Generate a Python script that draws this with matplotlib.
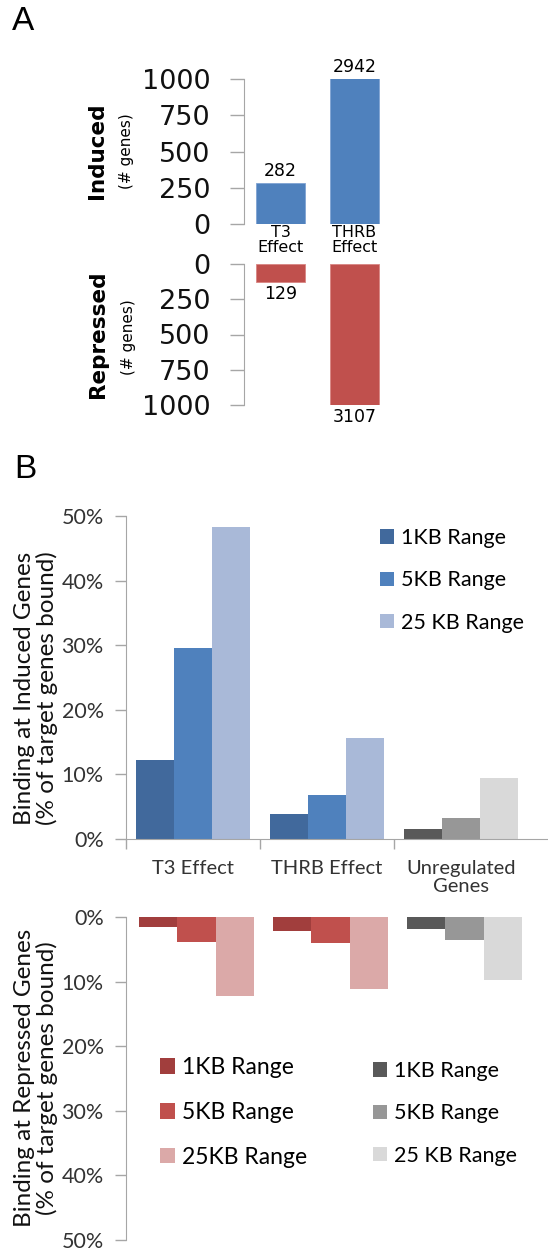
import matplotlib
matplotlib.use("Agg")
import matplotlib.pyplot as plt
import numpy as np

# ---- data ----
a_groups = ["T3\nEffect", "THRB\nEffect"]
a_induced = [282, 2942]
a_repressed = [129, 3107]

b_groups = ["T3 Effect", "THRB Effect", "Unregulated\nGenes"]
b_ranges = ["1KB Range", "5KB Range", "25 KB Range"]
b_ranges_red = ["1KB Range", "5KB Range", "25KB Range"]
b_ranges_gray = ["1KB Range", "5KB Range", "25 KB Range"]
# % of target genes bound, one list per range (T3, THRB, Unregulated)
ind_1kb = [12.2, 3.9, 1.5]
ind_5kb = [29.6, 6.8, 3.3]
ind_25kb = [48.3, 15.6, 9.5]
rep_1kb = [1.5, 2.1, 1.8]
rep_5kb = [3.8, 4.0, 3.6]
rep_25kb = [12.3, 11.2, 9.8]

W, H = 548, 1249
fig = plt.figure(figsize=(W / 100, H / 100), dpi=100)


def box(l, t, r, b):
    return [l / W, 1 - b / H, (r - l) / W, (b - t) / H]


GRAY = "#A6A6A6"
ffA = "DejaVu Sans"
ffB = "Lato"

# ================= panel A =================
fig.text(12 / W, 1 - 22 / H, "A", fontsize=24, family="Liberation Sans", va="center")

axi = fig.add_axes(box(244, 79, 391.5, 224))
axr = fig.add_axes(box(244, 264, 391.5, 405))
xa = np.arange(len(a_groups))
axi.bar(xa, a_induced, width=0.66, color="#4F81BD", edgecolor="#7FA3D3", linewidth=0.6)
axr.bar(xa, a_repressed, width=0.66, color="#C0504D", edgecolor="#D98583", linewidth=0.6)
axi.set_ylim(0, 1000)
axr.set_ylim(1000, 0)
for ax in (axi, axr):
    ax.set_xlim(-0.493, 1.5)
    for s in ("top", "right", "bottom"):
        ax.spines[s].set_visible(False)
    ax.spines["left"].set_color(GRAY)
    ax.set_yticks([0, 250, 500, 750, 1000])
    ax.tick_params(axis="y", colors=GRAY, length=10, width=1, labelcolor="#111111",
                   labelsize=19.5, pad=14)
    for t in ax.get_yticklabels():
        t.set_family(ffA)
    ax.set_xticks([])

for x, v in zip(xa, a_induced):
    axi.annotate(str(v), (x, min(v, 1000)), xytext=(0, 2), textcoords="offset points",
                 ha="center", va="bottom", fontsize=12.5, family=ffA)
    axi.annotate(a_groups[x], (x, 0), xytext=(0, -1), textcoords="offset points",
                 ha="center", va="top", fontsize=11.5, family=ffA, linespacing=0.95)
for x, v in zip(xa, a_repressed):
    axr.annotate(str(v), (x, min(v, 1000)), xytext=(0, -2), textcoords="offset points",
                 ha="center", va="top", fontsize=12.5, family=ffA)

fig.text(97 / W, 1 - 151 / H, "Induced", rotation=90, fontsize=15.5, fontweight="bold",
         family=ffA, ha="center", va="center")
fig.text(127 / W, 1 - 151 / H, "(# genes)", rotation=90, fontsize=11,
         family=ffA, ha="center", va="center")
fig.text(98 / W, 1 - 334 / H, "Repressed", rotation=90, fontsize=15.5, fontweight="bold",
         family=ffA, ha="center", va="center")
fig.text(128 / W, 1 - 337 / H, "(# genes)", rotation=90, fontsize=11,
         family=ffA, ha="center", va="center")

# ================= panel B =================
fig.text(14 / W, 1 - 470 / H, "B", fontsize=24, family="Liberation Sans", va="center")

blue = ["#41699C", "#4F81BD", "#A9B9D8"]
red = ["#A13E3D", "#C0504D", "#DBA9A8"]
gray = ["#595959", "#979797", "#D9D9D9"]
bw = 0.284
xb = np.arange(len(b_groups))

axu = fig.add_axes(box(126, 516, 548, 839))
axd = fig.add_axes(box(126, 917, 548, 1240))

ind = [ind_1kb, ind_5kb, ind_25kb]
rep = [rep_1kb, rep_5kb, rep_25kb]
hb, hr, hg = [], [], []
for k in range(3):
    b = axu.bar(xb[:2] + (k - 1) * bw, ind[k][:2], width=bw, color=blue[k], linewidth=0)
    axu.bar(xb[2:] + (k - 1) * bw, ind[k][2:], width=bw, color=gray[k], linewidth=0)
    hb.append(b)
    r = axd.bar(xb[:2] + (k - 1) * bw, rep[k][:2], width=bw, color=red[k], linewidth=0)
    g = axd.bar(xb[2:] + (k - 1) * bw, rep[k][2:], width=bw, color=gray[k], linewidth=0)
    hr.append(r)
    hg.append(g)

axu.set_xlim(-0.5, -0.5 + 422 / 134)
axd.set_xlim(-0.526, -0.526 + 422 / 134)
axu.set_ylim(0, 50)
axd.set_ylim(50, 0)
pct = [0, 10, 20, 30, 40, 50]
for ax in (axu, axd):
    for s in ("top", "right"):
        ax.spines[s].set_visible(False)
    ax.spines["left"].set_color(GRAY)
    ax.set_yticks(pct)
    ax.set_yticklabels([f"{p}%" for p in pct], family=ffB)
    ax.tick_params(axis="y", colors=GRAY, length=8, width=1, labelcolor="#333333",
                   labelsize=15.5, pad=8)
axd.spines["bottom"].set_visible(False)
axd.set_xticks([])

axu.spines["bottom"].set_color(GRAY)
axu.set_xticks([-0.5, 0.5, 1.5])
axu.set_xticklabels([])
axu.set_xticks(xb, minor=True)
axu.set_xticklabels(b_groups, minor=True, family=ffB, fontsize=14.5, color="#333333",
                    linespacing=1.05)
axu.tick_params(axis="x", which="major", colors=GRAY, length=7, width=1)
axu.tick_params(axis="x", which="minor", length=0, pad=15)


def leg_kw(size, hl):
    return dict(frameon=False, handlelength=hl, handleheight=hl,
                handletextpad=0.3, borderpad=0, borderaxespad=0, labelspacing=1.04,
                prop={"family": ffB, "size": size}, bbox_transform=fig.transFigure,
                loc="upper left")


axu.legend(hb, b_ranges, bbox_to_anchor=(380 / W, 1 - 528 / H), **leg_kw(15.5, 0.66))
l1 = axd.legend(hr, b_ranges_red, bbox_to_anchor=(160 / W, 1 - 1057 / H), **leg_kw(16.5, 0.66))
axd.add_artist(l1)
axd.legend(hg, b_ranges_gray, bbox_to_anchor=(373 / W, 1 - 1061 / H), **leg_kw(15.5, 0.66))

fig.text(36 / W, 1 - 688 / H, "Binding at Induced Genes\n(% of target genes bound)",
         rotation=90, fontsize=17.5, family=ffB, ha="center", va="center",
         multialignment="center", color="#111111", linespacing=1.0)
fig.text(36 / W, 1 - 1078 / H, "Binding at Repressed Genes\n(% of target genes bound)",
         rotation=90, fontsize=17.5, family=ffB, ha="center", va="center",
         multialignment="center", color="#111111", linespacing=1.0)

fig.savefig("out.png", dpi=100)
